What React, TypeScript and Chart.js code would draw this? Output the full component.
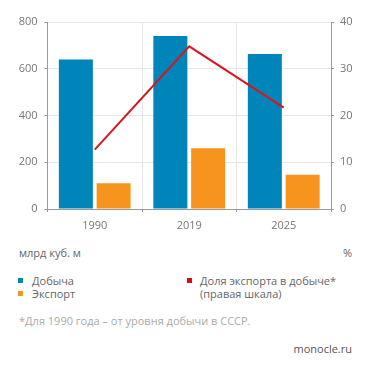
import React, { useEffect, useRef } from "react";
import { Chart, registerables } from "chart.js";

Chart.register(...registerables);

const categories = ["1990", "2019", "2025"];
const production = [640, 740, 663];
const exportVals = [110, 260, 147];
const exportShare = [12.7, 34.8, 21.7];
const leftTicks = [0, 200, 400, 600, 800];
const rightTicks = [0, 10, 20, 30, 40];

const BLUE = "#0085ba";
const ORANGE = "#f7941d";
const RED = "#d9141e";
const AXIS_TEXT = "#777777";
const FONT = "'Open Sans', sans-serif";

export default function App() {
  const ref = useRef<HTMLCanvasElement | null>(null);

  useEffect(() => {
    if (!ref.current) return;
    const chart = new Chart(ref.current, {
      type: "bar",
      data: {
        labels: categories,
        datasets: [
          {
            type: "line",
            label: "Доля экспорта в добыче*",
            data: exportShare,
            borderColor: RED,
            backgroundColor: RED,
            borderWidth: 2,
            pointRadius: 0,
            yAxisID: "y1",
            order: 0,
          } as any,
          {
            label: "Добыча",
            data: production,
            backgroundColor: BLUE,
            yAxisID: "y",
            order: 1,
          },
          {
            label: "Экспорт",
            data: exportVals,
            backgroundColor: ORANGE,
            yAxisID: "y",
            order: 1,
          },
        ],
      },
      options: {
        animation: false,
        responsive: false,
        maintainAspectRatio: false,
        layout: { padding: { top: 22, left: 0, right: 0, bottom: 0 } },
        plugins: {
          legend: { display: false },
          tooltip: { enabled: false },
        },
        scales: {
          x: {
            offset: true,
            grid: {
              offset: true,
              color: "#e6e6e6",
              tickColor: "#999999",
              tickLength: 3,
              drawTicks: true,
            },
            border: { color: "#999999", width: 1 },
            ticks: {
              color: AXIS_TEXT,
              font: { family: FONT, size: 11 },
              padding: 7,
            },
            afterFit: (s: any) => {
              s.height = 26;
            },
          },
          y: {
            position: "left",
            min: 0,
            max: 800,
            afterBuildTicks: (s: any) => {
              s.ticks = leftTicks.map((v) => ({ value: v }));
            },
            grid: {
              color: "#e6e6e6",
              tickColor: "#999999",
              tickLength: 3,
            },
            border: { color: "#999999", width: 1 },
            ticks: {
              color: AXIS_TEXT,
              font: { family: FONT, size: 11 },
              padding: 7,
            },
            afterFit: (s: any) => {
              s.width = 47.5;
            },
          },
          y1: {
            position: "right",
            min: 0,
            max: 40,
            afterBuildTicks: (s: any) => {
              s.ticks = rightTicks.map((v) => ({ value: v }));
            },
            grid: {
              drawOnChartArea: false,
              tickColor: "#999999",
              tickLength: 3,
            },
            border: { color: "#999999", width: 1 },
            ticks: {
              color: AXIS_TEXT,
              font: { family: FONT, size: 11 },
              padding: 6,
            },
            afterFit: (s: any) => {
              s.width = 40;
            },
          },
        },
      },
    });
    return () => chart.destroy();
  }, []);

  const txt: React.CSSProperties = {
    position: "absolute",
    fontFamily: FONT,
    fontSize: 11,
    lineHeight: "14px",
    color: "#666666",
    whiteSpace: "nowrap",
  };
  const sq = (color: string, left: number, top: number): React.CSSProperties => ({
    position: "absolute",
    left,
    top,
    width: 5,
    height: 5,
    background: color,
  });

  return (
    <div
      style={{
        position: "absolute",
        left: 0,
        top: 0,
        width: 371,
        height: 371,
        background: "#ffffff",
        overflow: "hidden",
      }}
    >
      <canvas
        ref={ref}
        width={371}
        height={235}
        style={{ position: "absolute", left: 0, top: 0, width: 371, height: 235 }}
      />
      <div style={{ ...txt, left: 19, top: 246 }}>млрд куб. м</div>
      <div style={{ ...txt, left: 343, top: 246 }}>%</div>

      <div style={sq(BLUE, 18, 278)} />
      <div style={{ ...txt, left: 32, top: 274 }}>Добыча</div>
      <div style={sq(ORANGE, 18, 291)} />
      <div style={{ ...txt, left: 32, top: 287 }}>Экспорт</div>

      <div style={sq("#e30613", 187, 278)} />
      <div style={{ ...txt, left: 200, top: 274 }}>Доля экспорта в добыче*</div>
      <div style={{ ...txt, left: 200, top: 287 }}>(правая шкала)</div>

      <div style={{ ...txt, left: 19, top: 314, color: "#aaaaaa" }}>
        *Для 1990 года – от уровня добычи в СССР.
      </div>
      <div style={{ ...txt, right: 19, top: 342, color: "#555555" }}>monocle.ru</div>
    </div>
  );
}
